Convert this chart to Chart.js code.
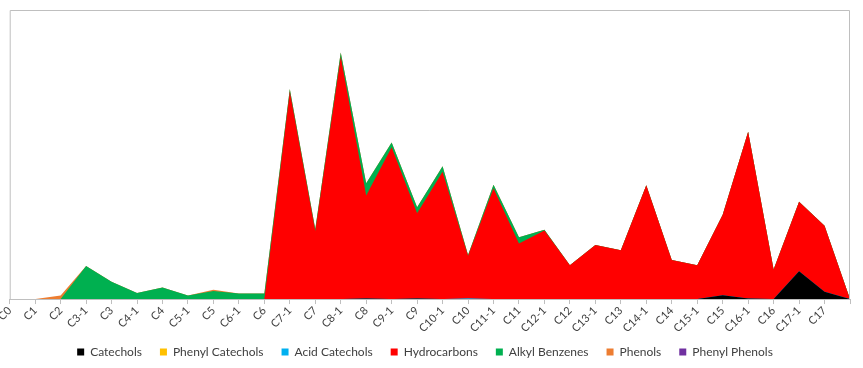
<!DOCTYPE html>
<html>
<head>
<meta charset="utf-8">
<script src="https://cdn.jsdelivr.net/npm/chart.js@4/dist/chart.umd.min.js"></script>
<style>
  html, body { margin: 0; padding: 0; background: #fff; }
  #wrap { width: 863px; height: 368px; }
</style>
</head>
<body>
<div id="wrap"><canvas id="areaChart"></canvas></div>
<script>
// Catégories (la dernière n'a pas d'étiquette)
const categories = ['C0', 'C1', 'C2', 'C3-1', 'C3', 'C4-1', 'C4', 'C5-1', 'C5', 'C6-1', 'C6',
    'C7-1', 'C7', 'C8-1', 'C8', 'C9-1', 'C9', 'C10-1', 'C10', 'C11-1', 'C11', 'C12-1', 'C12',
    'C13-1', 'C13', 'C14-1', 'C14', 'C15-1', 'C15', 'C16-1', 'C16', 'C17-1', 'C17', ''];

// Valeurs (empilées dans cet ordre)
const catechols = [0, 0, 0, 0, 0, 0, 0, 0, 0, 0, 0,
    0, 0, 0, 0.2, 0, 0.2, 0, 0, 0, 0, 0, 0,
    0, 0, 0, 0, 0, 1.3, 0.2, 0, 9.6, 2.5, 0];
const phenylCatechols = new Array(34).fill(0);
const acidCatechols = [0, 0, 0, 0, 0, 0, 0, 0, 0, 0, 0,
    0, 0, 0, 0, 0, 0, 0, 0.3, 0, 0, 0, 0,
    0, 0, 0, 0, 0, 0, 0, 0, 0, 0, 0];
const hydrocarbons = [0, 0, 0, 0, 0, 0, 0, 0, 0, 0, 0,
    71.8, 23.5, 83.9, 35.6, 52.5, 29.5, 44.0, 14.7, 38.3, 19.2, 23.7, 11.7,
    18.7, 16.9, 39.4, 13.5, 11.7, 27.9, 57.7, 10.2, 24.1, 22.9, 0];
const alkylBenzenes = [0, 0, 0, 11.4, 6.0, 2.1, 4.0, 1.2, 2.8, 1.9, 1.9,
    0.9, 0.7, 1.4, 4.3, 1.7, 2.1, 1.9, 0.2, 1.2, 2.2, 0.3, 0,
    0, 0, 0, 0, 0, 0, 0, 0, 0, 0, 0];
const phenols = [0, 0, 1.2, 0, 0, 0, 0, 0, 0.4, 0, 0,
    0, 0, 0, 0, 0, 0, 0, 0, 0, 0, 0, 0,
    0, 0, 0, 0, 0, 0, 0, 0, 0, 0, 0];
const phenylPhenols = new Array(34).fill(0);

const series = [
    { label: 'Catechols', data: catechols, color: '#000000' },
    { label: 'Phenyl Catechols', data: phenylCatechols, color: '#FFC000' },
    { label: 'Acid Catechols', data: acidCatechols, color: '#00B0F0' },
    { label: 'Hydrocarbons', data: hydrocarbons, color: '#FF0000' },
    { label: 'Alkyl Benzenes', data: alkylBenzenes, color: '#00B050' },
    { label: 'Phenols', data: phenols, color: '#ED7D31' },
    { label: 'Phenyl Phenols', data: phenylPhenols, color: '#7030A0' }
];

// Cadre gris autour de la zone de tracé
const cadre = {
    id: 'cadre',
    afterDraw(chart) {
        const a = chart.chartArea;
        const ctx = chart.ctx;
        ctx.save();
        ctx.strokeStyle = '#BFBFBF';
        ctx.lineWidth = 1;
        ctx.beginPath();
        ctx.moveTo(a.left + 0.5, a.bottom);
        ctx.lineTo(a.left + 0.5, a.top + 0.5);
        ctx.lineTo(a.right - 0.5, a.top + 0.5);
        ctx.lineTo(a.right - 0.5, a.bottom);
        ctx.stroke();
        ctx.restore();
    }
};

// Légende : hauteur réservée réduite, puis remontée de quelques pixels
const legendeCompacte = {
    id: 'legendeCompacte',
    beforeInit(chart) {
        const fitOrig = chart.legend.fit;
        chart.legend.fit = function () {
            fitOrig.call(this);
            this.height = 33;
        };
    },
    afterLayout(chart) {
        chart.legend.top -= 7;
        chart.legend.bottom -= 7;
    }
};

const ctx = document.getElementById('areaChart').getContext('2d');
new Chart(ctx, {
    type: 'line',
    data: {
        labels: categories,
        datasets: series.map(s => ({
            label: s.label,
            data: s.data,
            backgroundColor: s.color,
            borderColor: s.color,
            borderWidth: 0,
            pointRadius: 0,
            tension: 0,
            fill: s.data.some(v => v > 0) ? 'origin' : false
        }))
    },
    options: {
        responsive: true,
        maintainAspectRatio: false,
        animation: false,
        layout: { padding: { left: 0, right: 13, top: 10, bottom: 0 } },
        plugins: {
            legend: {
                position: 'bottom',
                labels: {
                    boxWidth: 7,
                    boxHeight: 7,
                    padding: 18,
                    color: '#404040',
                    font: { family: 'Lato', size: 12 }
                }
            },
            tooltip: { enabled: false }
        },
        scales: {
            x: {
                offset: false,
                grid: {
                    display: true,
                    drawOnChartArea: false,
                    tickLength: 5,
                    color: '#BFBFBF'
                },
                border: { color: '#BFBFBF' },
                ticks: {
                    autoSkip: false,
                    minRotation: 45,
                    maxRotation: 45,
                    padding: 0,
                    color: '#404040',
                    font: { family: 'Lato', size: 11 }
                }
            },
            y: {
                stacked: true,
                min: 0,
                max: 100,
                display: false
            }
        }
    },
    plugins: [cadre, legendeCompacte]
});
</script>
</body>
</html>
